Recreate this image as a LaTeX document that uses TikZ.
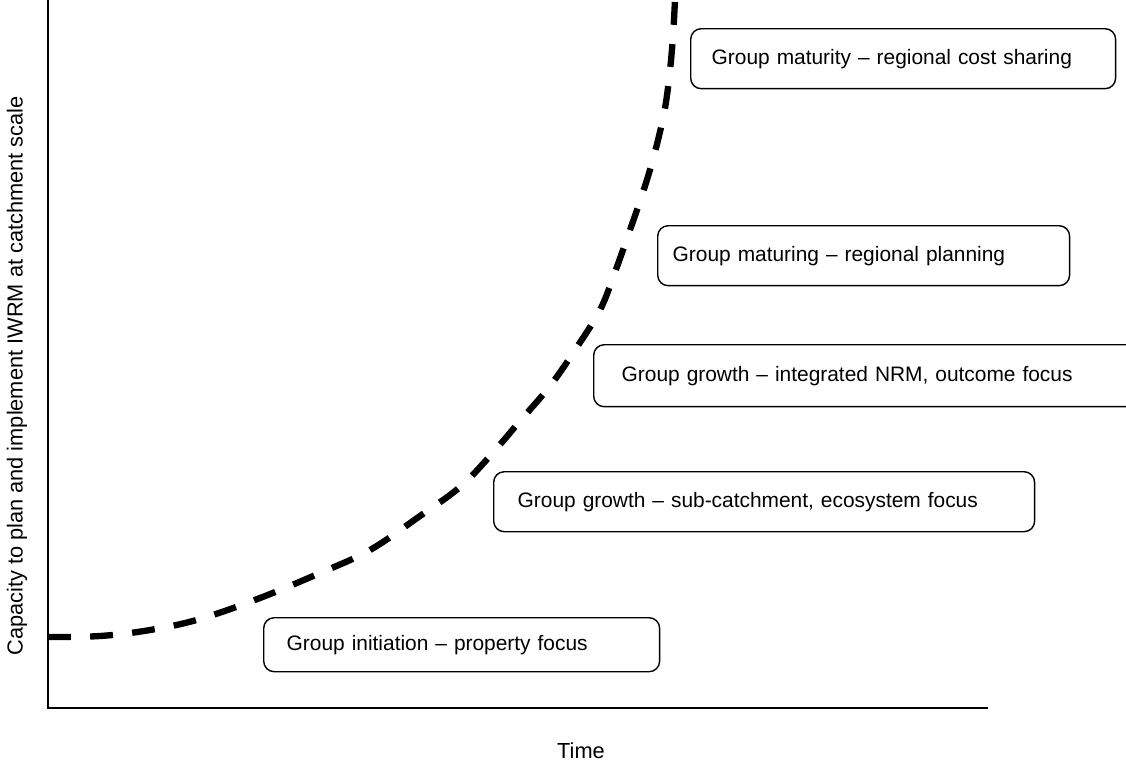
\documentclass[tikz,border=0pt]{standalone}
\usepackage{fontspec}
\setmainfont{Liberation Sans}
\usetikzlibrary{positioning}
\tikzset{
  axisline/.style={black, line width=1.1pt},
  growth/.style={black, line width=3.6pt, dash pattern=on 13pt off 11pt},
  stage/.style 2 args={draw=black, line width=0.8pt, rounded corners=6pt, anchor=north west,
    text width=#1, inner xsep=#2, inner ysep=0pt, align=left, font=\fontsize{11.9}{14}\selectfont},
  lab/.style={text=black, font=\fontsize{12.4}{14}\selectfont},
}
\begin{document}
\begin{tikzpicture}[x=0.02cm, y=-0.02cm]
  \useasboundingbox (0,0) rectangle (1126,762);

  % axes
  \coordinate (origin) at (48,708);
  \coordinate (ytop) at (48,0);
  \coordinate (xend) at (988,708);
  \draw[axisline] (ytop) -- (origin) -- (xend);
  \node[lab, rotate=90] (ylab) at (17,376) {Capacity to plan and implement IWRM at catchment scale};
  \node[lab] (xlab) at (581,751) {Time};

  % growth curve
  \draw[growth] plot[smooth, tension=0.6] coordinates {
    (48,637) (100,636) (150,630) (200,619) (260,598) (320,573) (370,550)
    (420,516) (460,487) (490,456) (520,421) (550,386) (575,350) (600,310)
    (615,272) (630,230) (645,186) (656,148) (665,108) (670,70) (673,36) (675,0)};

  % stages
  \node[stage={7.66cm}{0.42cm}, minimum height=1.2cm] (mature) at (690,28)
    {Group maturity -- regional cost sharing};
  \node[stage={7.64cm}{0.3cm}, minimum height=1.2cm] (maturing) at (657,225)
    {Group maturing -- regional planning};
  \node[stage={9.9cm}{0.56cm}, minimum height=1.24cm] (nrm) at (593,344)
    {Group growth -- integrated NRM, outcome focus};
  \node[stage={9.86cm}{0.48cm}, minimum height=1.2cm] (subcatch) at (493,471)
    {Group growth -- sub-catchment, ecosystem focus};
  \node[stage={7.0cm}{0.46cm}, minimum height=1.08cm] (init) at (263,617)
    {Group initiation -- property focus};
\end{tikzpicture}
\end{document}
